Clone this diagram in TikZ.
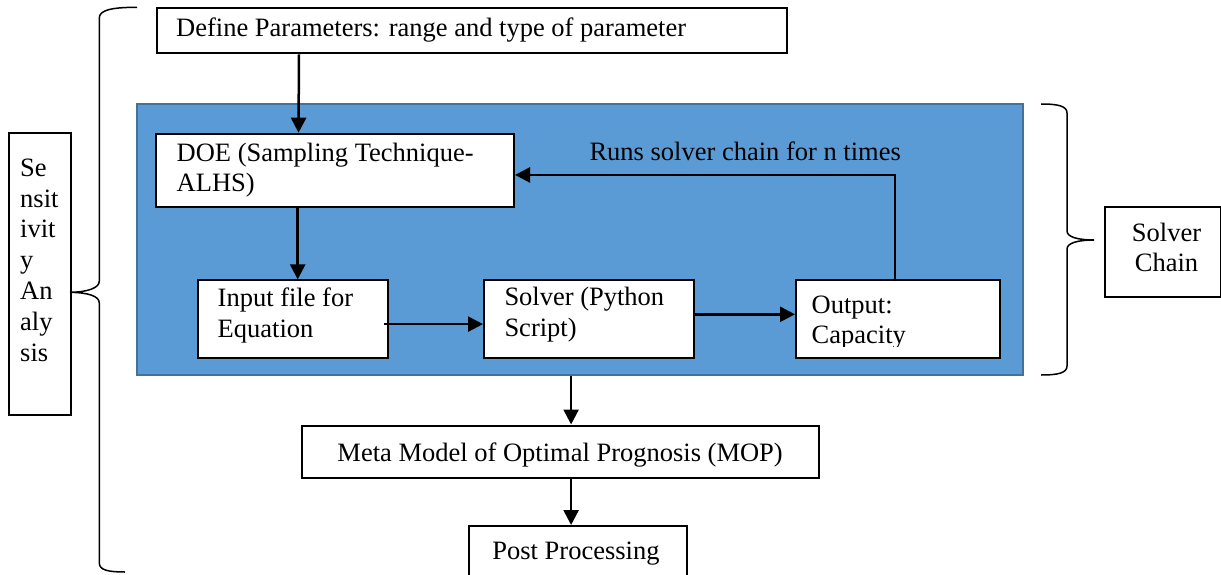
\documentclass[tikz,border=0pt]{standalone}
\usepackage{fontspec}
\setmainfont{Liberation Serif}
\usetikzlibrary{arrows.meta,calc}
\definecolor{chainblue}{HTML}{5B9BD5}
\definecolor{chainedge}{HTML}{41719C}
\begin{document}
\begin{tikzpicture}[x=1pt,y=-1pt,
  box/.style={draw=black,line width=2pt,fill=white,inner sep=0pt,anchor=north west},
  txt/.style={inner sep=0pt,align=left,anchor=base west,font=\fontsize{26.5}{30.5}\selectfont},
  ctxt/.style={inner sep=0pt,align=center,anchor=base,font=\fontsize{26.5}{30.5}\selectfont},
  arr/.style={line width=2.5pt,-{Triangle[length=15pt,width=15pt]}},
  brace/.style={line width=1.5pt}]
\useasboundingbox (0,0) rectangle (1221,575);
% blue solver chain region
\node[draw=chainedge,line width=2pt,fill=chainblue,inner sep=0pt,anchor=north west,
  minimum width=886pt,minimum height=271pt] (chain) at (136,103.4) {};
% boxes
\node[box,minimum width=630pt,minimum height=45pt] (def) at (155.5,7.3) {};
\node[txt] (deft) at (176,37) {Define Parameters: range and type of parameter};
\node[box,minimum width=358pt,minimum height=73.3pt] (doe) at (155,132.7) {};
\node[txt] (doet) at (176.5,191.5) {DOE (Sampling Technique-\\ALHS)};
\node[box,minimum width=190pt,minimum height=77.4pt] (inp) at (196.7,279.4) {};
\node[txt] (inpt) at (217.5,337) {Input file for\\Equation};
\node[box,minimum width=209.7pt,minimum height=78pt] (sol) at (483,279.3) {};
\node[txt] (solt) at (504.3,336) {Solver (Python\\Script)};
\node[box,minimum width=204pt,minimum height=77.7pt] (out) at (795,279) {};
\begin{scope}
\clip (797,281) rectangle (997,346);
\node[txt] (outt) at (811.5,343.5) {Output:\\Capacity};
\end{scope}
\node[txt] (runs) at (589.3,160.7) {Runs solver chain for n times};
\node[box,minimum width=62pt,minimum height=282pt] (sens) at (8.3,132) {};
\node[txt,font=\fontsize{26.5}{30.8}\selectfont] (senst) at (20,361) {Se\\nsit\\ivit\\y\\An\\aly\\sis};
\node[box,minimum width=116.3pt,minimum height=89.7pt] (sc) at (1103.7,206) {};
\node[ctxt] (sct) at (1166.5,271.7) {Solver\\Chain};
\node[box,minimum width=516.8pt,minimum height=52pt] (mop) at (300.7,424.5) {};
\node[ctxt] (mopt) at ([yshift=-9.5pt]mop.center) {Meta Model of Optimal Prognosis (MOP)};
\node[box,minimum width=218pt,minimum height=60pt] (post) at (467.5,525) {};
\node[ctxt] (postt) at (576,559) {Post Processing};
% connectors
\draw[arr] ([xshift=143.5pt]def.south west) -- ([xshift=143.5pt]doe.north west);
\draw[arr] ([xshift=142.7pt]doe.south west) -- ([xshift=142.7pt]doe.south west |- inp.north);
\draw[arr] ([xshift=-4.4pt,yshift=-5pt]inp.east) -- ([yshift=-5pt]inp.east -| sol.west);
\draw[arr] ([yshift=5pt]sol.east) -- ([yshift=5pt]sol.east -| out.west);
\draw[arr] ([xshift=100pt]out.north west) |- ([yshift=-4.6pt]doe.east);
\draw[arr] ([xshift=11pt]mop.north |- chain.south) -- ([xshift=11pt]mop.north);
\draw[arr] ([xshift=11pt]mop.south) -- ([xshift=11pt]mop.south |- post.north);
% braces
\draw[brace] (137,7.3) .. controls (112,7.3) and (99.3,10) .. (99.3,18) -- (99.3,281)
  .. controls (99.3,288) and (88,292) .. (70,292.3)
  .. controls (88,292.6) and (99.3,296) .. (99.3,303) -- (99.3,563)
  .. controls (99.3,570) and (108,572) .. (125,572);
\draw[brace] (1041,104) .. controls (1058,104) and (1067,106) .. (1067,113) -- (1067,231)
  .. controls (1067,237) and (1078,240) .. (1094,240)
  .. controls (1078,240) and (1067,243) .. (1067,249) -- (1067,366)
  .. controls (1067,373) and (1058,375) .. (1041,375);
\end{tikzpicture}
\end{document}
